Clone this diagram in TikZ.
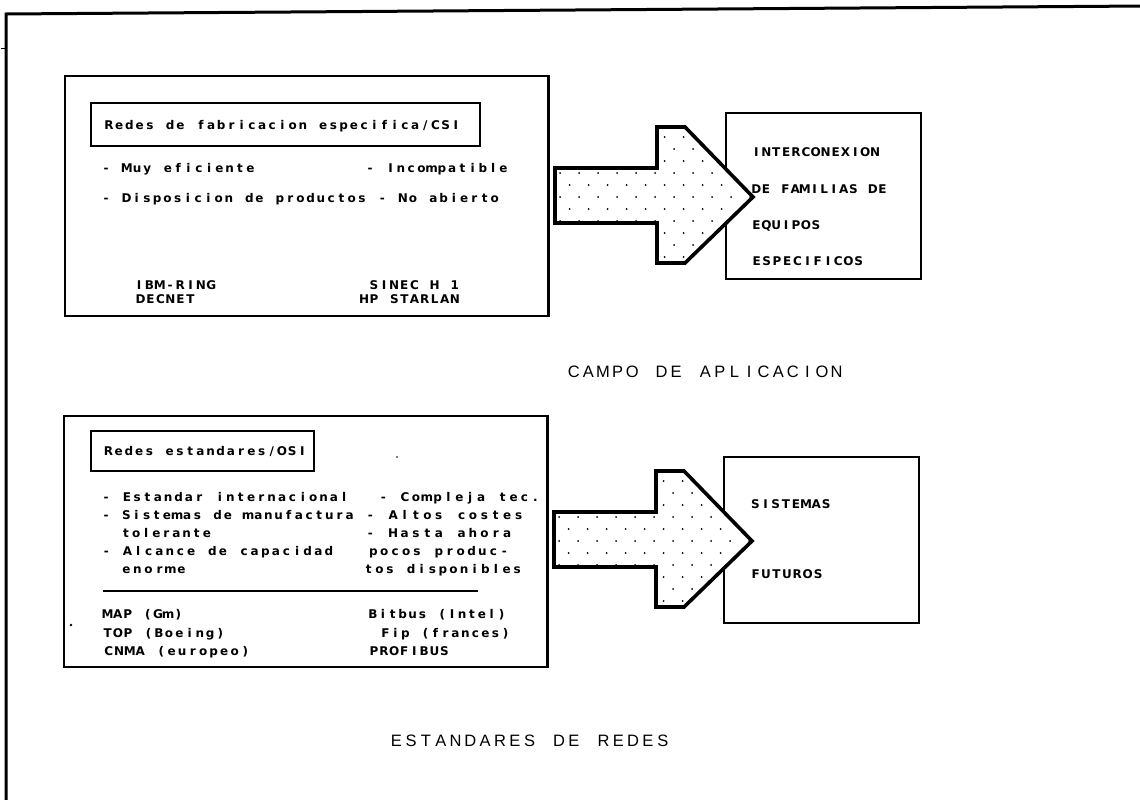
\documentclass[tikz,border=0pt]{standalone}
\usepackage{fontspec}
\setmainfont{Liberation Sans}
\newfontfamily\plotfont{DejaVu Sans}
\ExplSyntaxOn
\NewDocumentCommand \celltext { O{10.2pt} m }
  { \str_map_inline:nn {#2} { \hbox_to_wd:nn {#1} { \hss ##1 \hss } } }
\ExplSyntaxOff
\tikzset{
  sm/.style={inner sep=0pt, outer sep=0pt, anchor=base west, font=\plotfont\fontsize{12}{14}\selectfont\bfseries},
  big/.style={inner sep=0pt, outer sep=0pt, anchor=base west, font=\fontsize{16.5}{19}\selectfont},
  panel/.style={draw, inner sep=0pt, outer sep=0pt, anchor=north west, line width=2.6pt},
  titlebox/.style={draw, inner sep=0pt, outer sep=0pt, anchor=north west, line width=2pt},
  rightbox/.style={draw, inner sep=0pt, outer sep=0pt, anchor=north west, line width=2.2pt, fill=white},
  arrowpath/.style={insert path={(555,168) -- (657,168) -- (657,127) -- (685,127) -- (753,197) -- (685,263) -- (657,263) -- (657,223) -- (555,223) -- cycle}},
  arrowline/.style={line width=3.6pt, line join=miter},
  frameline/.style={line width=3pt},
  speck/.style={fill=black}
}
\begin{document}
\begin{tikzpicture}[x=1pt,y=-1pt]
\useasboundingbox (0,0) rectangle (1140,800);
\fill[white] (0,0) rectangle (1140,800);
% outer frame
\coordinate (fr1) at (1145,6);
\coordinate (fr2) at (6,14);
\coordinate (fr3) at (6,805);
\draw[frameline] (fr1) -- (fr2) -- (fr3);
\coordinate (tk1) at (1,49);
\draw[line width=1pt] (tk1) -- (fr2 |- tk1);

% ---------- right boxes (under the arrows) ----------
\node[rightbox, minimum width=195pt, minimum height=166pt] (tr) at (726,113) {};
\node[rightbox, minimum width=195pt, minimum height=166pt] (br) at (724,457) {};

% ---------- arrows ----------
\foreach \dx/\dy in {0/0, -1/344}{
  \begin{scope}[shift={(\dx,\dy)}]
    \fill[white, arrowpath];
    \begin{scope}
      \clip[arrowpath];
      \foreach \r in {0,...,12}{
        \foreach \c in {0,...,10}{
          \pgfmathsetmacro\xx{560+\c*19+mod(\r,2)*9.5}
          \pgfmathsetmacro\yy{125+\r*12}
          \fill (\xx,\yy) circle[radius=1pt];
        }
      }
    \end{scope}
    \draw[arrowline, arrowpath];
  \end{scope}
}

% ---------- top panel ----------
\node[panel, minimum width=483.5pt, minimum height=240pt] (tl) at (65,76) {};
\node[titlebox, minimum width=389pt, minimum height=43pt] (tlt) at (91,103) {};
\node[sm] (n1) at (104,129) {\celltext[10.2pt]{Redes de fabricacion especifica/CSI}};
\node[sm] (n2) at (101,172) {\celltext[10.3pt]{- Muy eficiente}};
\node[sm] (n3) at (365,172) {\celltext[10.25pt]{- Incompatible}};
\node[sm] (n4) at (101,202) {\celltext[10.23pt]{- Disposicion de productos - No abierto}};
\node[sm] (n5) at (134,289) {\celltext[10.3pt]{IBM-RING}};
\node[sm] (n6) at (135.5,303) {\celltext[10pt]{DECNET}};
\node[sm] (n7) at (369,289) {\celltext[10.1pt]{SINEC H 1}};
\node[sm] (n8) at (359,303) {\celltext[10.1pt]{HP STARLAN}};

\node[sm] (r1) at (751.5,156.5) {\celltext[9.9pt]{INTERCONEXION}};
\node[sm] (r2) at (751.5,193) {\celltext[9.7pt]{DE FAMILIAS DE}};
\node[sm] (r3) at (751.5,229) {\celltext[9.9pt]{EQUIPOS}};
\node[sm] (r4) at (751.5,265) {\celltext[10.2pt]{ESPECIFICOS}};

\node[big] (campo) at (566.6,377) {\celltext[14.6pt]{CAMPO DE APLICACION}};

% ---------- bottom panel ----------
\node[panel, minimum width=483.5pt, minimum height=251pt] (bl) at (64,416) {};
\node[titlebox, minimum width=222.5pt, minimum height=40pt] (blt) at (91,431) {};
\node[sm] (b0) at (103.5,455) {\celltext[10.2pt]{Redes estandares/OSI}};
\node[sm] (b1) at (101,501) {\celltext[10.35pt]{- Estandar internacional}};
\node[sm] (b2) at (101,519) {\celltext[10.15pt]{- Sistemas de manufactura}};
\node[sm] (b3) at (121,537) {\celltext[10.1pt]{tolerante}};
\node[sm] (b4) at (101,555) {\celltext[10.6pt]{- Alcance de capacidad}};
\node[sm] (b5) at (121,573) {\celltext[11pt]{enorme}};
\node[sm] (c1) at (378,501) {\celltext[10.85pt]{- Compleja tec.}};
\node[sm] (c2) at (364.7,519) {\celltext[11.4pt]{- Altos costes}};
\node[sm] (c3) at (364.7,537) {\celltext[11.4pt]{- Hasta ahora}};
\node[sm] (c4) at (368,555) {\celltext[10.9pt]{pocos produc-}};
\node[sm] (c5) at (363.5,573) {\celltext[10.6pt]{tos disponibles}};
\coordinate (ru1) at (103,591);
\coordinate (ru2) at (478,591);
\draw[line width=1.6pt] (ru1) -- (ru2);
\node[sm] (m1) at (102.5,618) {\celltext[10.1pt]{MAP (Gm)}};
\node[sm] (m2) at (102.5,637) {\celltext[10.25pt]{TOP (Boeing)}};
\node[sm] (m3) at (103.5,655) {\celltext[10.5pt]{CNMA (europeo)}};
\node[sm] (m4) at (368,618) {\celltext[9.9pt]{Bitbus (Intel)}};
\node[sm] (m5) at (380.5,637) {\celltext[10pt]{Fip (frances)}};
\node[sm] (m6) at (369,655) {\celltext[10.06pt]{PROFIBUS}};
\fill[speck] (71,625) circle[radius=1.4pt];
\fill[speck] (397,457) circle[radius=0.8pt];

\node[sm] (s1) at (750.5,508) {\celltext[10.1pt]{SISTEMAS}};
\node[sm] (s2) at (750.5,578) {\celltext[10.4pt]{FUTUROS}};

\node[big] (estd) at (389,746) {\celltext[14.8pt]{ESTANDARES DE REDES}};
\end{tikzpicture}
\end{document}
